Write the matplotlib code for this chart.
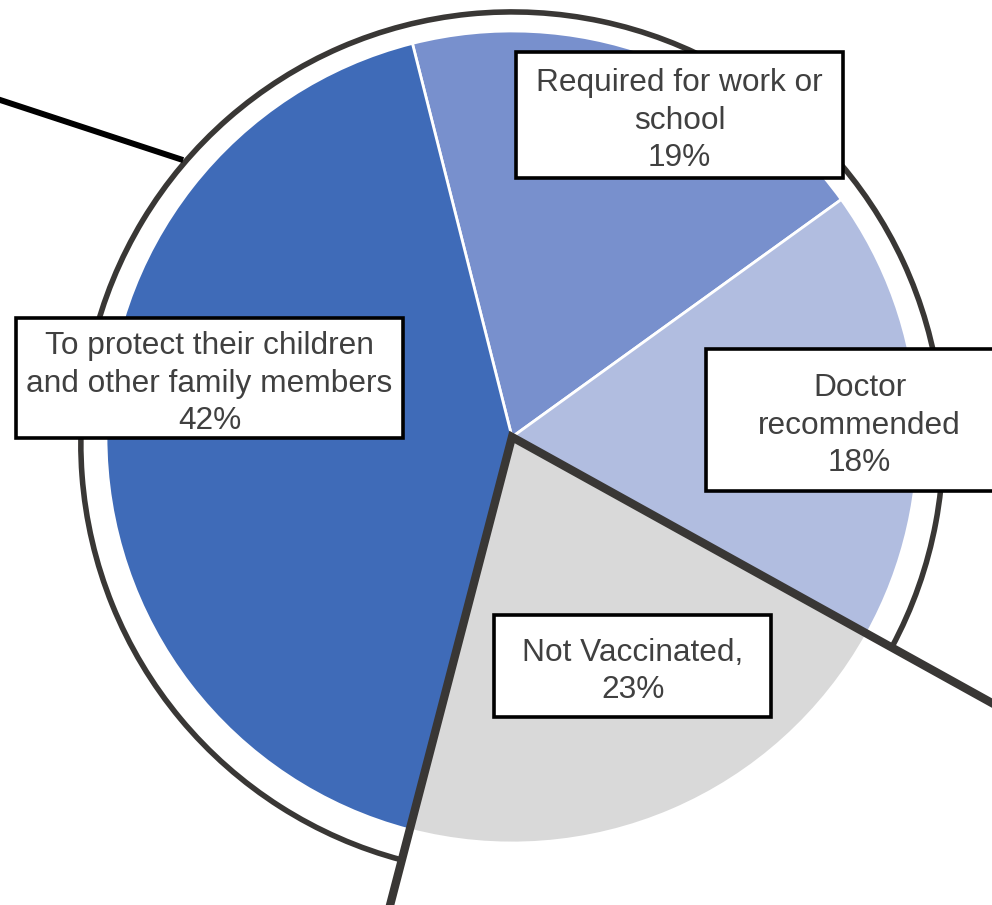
import numpy as np
import matplotlib
matplotlib.use('Agg')
from matplotlib import pyplot as plt
from matplotlib.patches import Arc, Rectangle

# slices, clockwise from the top-left boundary
categories = ['Required for work or\nschool', 'Doctor\nrecommended', 'Not Vaccinated,',
              'To protect their children\nand other family members']
values = [19, 18, 21, 42]
pct_labels = ['19%', '18%', '23%', '42%']
colors = ['#7890cd', '#b1bde0', '#d9d9d9', '#3f6bb8']

# label boxes (x0, y0, x1, y1) in data units, pie radius = 1
boxes = [(0.010, 0.638, 0.815, 0.948),
         (0.478, -0.133, 1.235, 0.217),
         (-0.044, -0.690, 0.638, -0.438),
         (-1.222, -0.002, -0.268, 0.293)]

start = 104.2
plt.rcParams['font.family'] = ['Liberation Sans', 'DejaVu Sans']

fig = plt.figure(figsize=(9.92, 9.05), dpi=100)
ax = fig.add_axes([0, 0, 1, 1])
ax.pie(values, colors=colors, startangle=start, counterclock=False, radius=1.0,
       wedgeprops=dict(edgecolor='white', linewidth=2))

# boundaries of the "Not Vaccinated" slice
cum = np.cumsum([0] + values) / sum(values) * 360
a1 = np.deg2rad(start - cum[2])
a2 = np.deg2rad(start - cum[3])
dark = '#393735'
R = 2.0
ax.plot([R * np.cos(a1), 0, R * np.cos(a2)], [R * np.sin(a1), 0, R * np.sin(a2)],
        color=dark, lw=6, solid_joinstyle='miter', zorder=4)

# outer arc around the vaccinated part (centre a bit below the pie centre)
cy, r = -0.015, 1.062


def arc_angle(a):
    # where the radial line at angle a meets the arc
    u = np.array([np.cos(a), np.sin(a)])
    b = -cy * u[1]
    t = -b + np.sqrt(b * b - (cy * cy - r * r))
    p = t * u
    return np.rad2deg(np.arctan2(p[1] - cy, p[0]))


t1, t2 = arc_angle(a1), arc_angle(a2)
if t2 < t1:
    t2 += 360
ax.add_patch(Arc((0, cy), 2 * r, 2 * r, theta1=t1, theta2=t2, color=dark, lw=4, zorder=4))

# leader line top-left
ax.plot([-1.30, -0.810], [0.843, 0.682], color='black', lw=4.3, solid_capstyle='butt', zorder=4)

for cat, pct, (x0, y0, x1, y1) in zip(categories, pct_labels, boxes):
    ax.add_patch(Rectangle((x0, y0), x1 - x0, y1 - y0, facecolor='white', edgecolor='black',
                           lw=2.6, zorder=5))
    ax.text((x0 + x1) / 2, (y0 + y1) / 2 - 0.014, cat + '\n' + pct, ha='center', va='center',
            fontsize=22.8, color='#404040', linespacing=1.33, zorder=6)

ax.set_xlim(-512 / 406, 480 / 406)
ax.set_ylim(-468 / 406, 437 / 406)
ax.set_aspect('equal')
ax.axis('off')
plt.savefig('out.png', dpi=100)
plt.close('all')
